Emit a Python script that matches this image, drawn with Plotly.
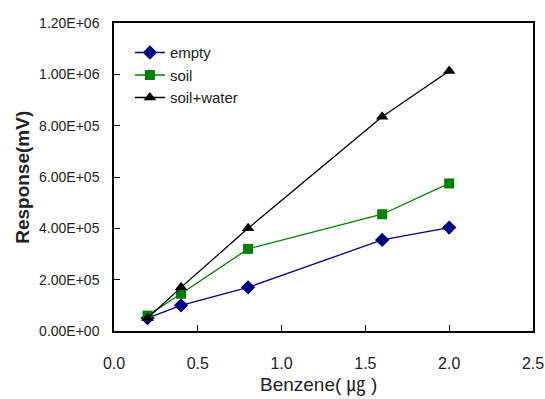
import plotly.graph_objects as go

x_vals = [0.2, 0.4, 0.8, 1.6, 2.0]
empty = [50000, 100000, 170000, 355000, 403000]
soil = [60000, 145000, 320000, 455000, 575000]
soil_water = [50000, 170000, 400000, 835000, 1013000]

y_tickvals = [0, 200000, 400000, 600000, 800000, 1000000, 1200000]
y_ticktext = ["0.00E+00", "2.00E+05", "4.00E+05", "6.00E+05", "8.00E+05", "1.00E+06", "1.20E+06"]
x_tickvals = [0.0, 0.5, 1.0, 1.5, 2.0, 2.5]
x_ticktext = ["0.0", "0.5", "1.0", "1.5", "2.0", "2.5"]

FONT = "Arial, Liberation Sans, sans-serif"

fig = go.Figure()
fig.add_trace(go.Scatter(x=x_vals, y=empty, name="empty", mode="lines+markers",
                         line=dict(color="#000080", width=1.3),
                         marker=dict(symbol="diamond", size=11, color="#000080")))
fig.add_trace(go.Scatter(x=x_vals, y=soil, name="soil", mode="lines+markers",
                         line=dict(color="#008000", width=1.3),
                         marker=dict(symbol="square", size=10, color="#008000")))
fig.add_trace(go.Scatter(x=x_vals, y=soil_water, name="soil+water", mode="lines+markers",
                         line=dict(color="#000000", width=1.3),
                         marker=dict(symbol="triangle-up", size=11, color="#000000")))

fig.update_layout(
    width=545, height=399,
    margin=dict(l=114, r=12, t=23, b=68),
    paper_bgcolor="white", plot_bgcolor="white",
    font=dict(family=FONT, size=14, color="#222"),
    showlegend=True,
    legend=dict(x=0.038, y=0.957, xanchor="left", yanchor="top",
                bgcolor="rgba(0,0,0,0)", font=dict(family=FONT, size=15, color="#222"),
                itemwidth=30, tracegroupgap=0),
    xaxis=dict(range=[0, 2.5], tickvals=x_tickvals, ticktext=x_ticktext, automargin=False,
               showgrid=False, zeroline=False, showline=True, linecolor="black", linewidth=1.5,
               mirror=True, ticks="inside", ticklen=6, tickcolor="black", tickwidth=1,
               tickfont=dict(family=FONT, size=16, color="#222"), ticklabelstandoff=17),
    yaxis=dict(range=[0, 1200000], tickvals=y_tickvals, ticktext=y_ticktext, automargin=False,
               showgrid=False, zeroline=False, showline=True, linecolor="black", linewidth=1.5,
               mirror=True, ticks="inside", ticklen=6, tickcolor="black", tickwidth=1,
               tickfont=dict(family=FONT, size=14, color="#222"), ticklabelstandoff=10),
    annotations=[
        dict(text="<b>Response(mV)</b>", xref="paper", yref="paper", x=-0.22, y=0.5,
             xanchor="center", yanchor="middle", textangle=-90, showarrow=False,
             font=dict(family=FONT, size=19, color="#222")),
        dict(text="Benzene( ㎍ )", xref="paper", yref="paper", x=0.487, y=-0.175,
             xanchor="center", yanchor="middle", showarrow=False,
             font=dict(family="Liberation Sans, Noto Sans CJK KR, sans-serif", size=19, color="#222")),
    ],
)

fig.write_html("out.html")
